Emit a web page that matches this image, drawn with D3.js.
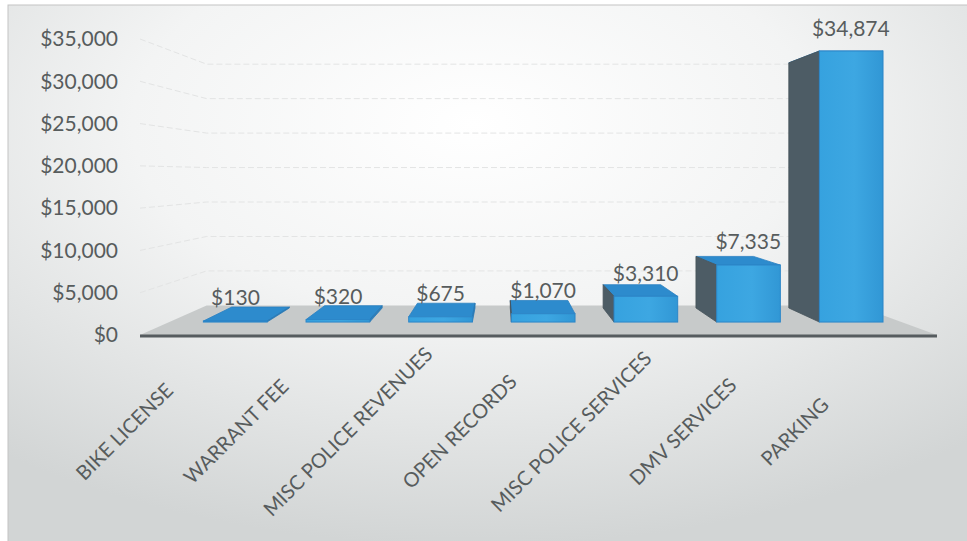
<!DOCTYPE html>
<html>
<head>
<meta charset="utf-8">
<script src="https://cdn.jsdelivr.net/npm/d3@7"></script>
<style>
  html, body { margin: 0; padding: 0; background: #ffffff; }
  svg { display: block; }
  text { font-family: Lato, "Open Sans", sans-serif; }
</style>
</head>
<body>
<svg id="chart" width="967" height="541"></svg>
<script>
// Revenue by source (3D column chart)
const categories = ["BIKE LICENSE", "WARRANT FEE", "MISC POLICE REVENUES", "OPEN RECORDS",
                    "MISC POLICE SERVICES", "DMV SERVICES", "PARKING"];
const revenue = [130, 320, 675, 1070, 3310, 7335, 34874];
const tickValues = [0, 5000, 10000, 15000, 20000, 25000, 30000, 35000];

const W = 967, H = 541;
const svg = d3.select("#chart");
const defs = svg.append("defs");

// Background panel gradient
const bg = defs.append("radialGradient").attr("id", "bgGrad")
  .attr("cx", "48%").attr("cy", "22%").attr("r", "78%");
bg.append("stop").attr("offset", "0%").attr("stop-color", "#ffffff");
bg.append("stop").attr("offset", "45%").attr("stop-color", "#f3f4f4");
bg.append("stop").attr("offset", "100%").attr("stop-color", "#d2d5d5");

svg.append("rect").attr("x", 8).attr("y", 5).attr("width", W).attr("height", H)
  .attr("fill", "url(#bgGrad)").attr("stroke", "#c4c4c4").attr("stroke-width", 1);

// Front-plane scales
const x = d3.scaleBand().domain(categories).range([156, 938])
  .paddingInner(0.38).paddingOuter(0.19);
const y = d3.scaleLinear().domain([0, 35000]).range([335, 39]);

// Perspective: points shrink toward the vanishing point with depth factor k
const VP = { x: 500, y: 175 };
const kFloorBack = 0.815, kBarFront = 0.919, kBarBack = 0.831, kLabel = 0.918;
const P = (px, py, k) => [VP.x + (px - VP.x) * k, VP.y + (py - VP.y) * k];
const poly = pts => pts.map(p => p.join(",")).join(" ");

const floorL = 140, floorR = 937;

// Wall gridlines (side wall + back wall), very faint
const grid = svg.append("g").attr("fill", "none").attr("stroke", "#e3e4e4").attr("stroke-width", 1)
  .attr("stroke-dasharray", "6,3");
tickValues.filter(v => v > 0).forEach(v => {
  const a = [floorL, y(v)], b = P(floorL, y(v), kFloorBack), c = P(floorR, y(v), kFloorBack);
  grid.append("polyline").attr("points", poly([a, b, c]));
});

// Floor
const y0 = y(0);
svg.append("polygon")
  .attr("points", poly([[floorL, y0], [floorR, y0], P(floorR, y0, kFloorBack), P(floorL, y0, kFloorBack)]))
  .attr("fill", "#c7caca");
svg.append("line").attr("x1", floorL).attr("x2", floorR).attr("y1", y0 + 1).attr("y2", y0 + 1)
  .attr("stroke", "#565c5f").attr("stroke-width", 3);

// Value axis
const axis = d3.axisLeft(y).tickValues(tickValues).tickFormat(d3.format("$,")).tickSize(0).tickPadding(22);
const gAxis = svg.append("g").attr("transform", `translate(${floorL},0)`).call(axis);
gAxis.select(".domain").remove();
gAxis.selectAll("text").attr("font-size", 21).attr("fill", "#575c5d")
  .style("font-family", "Lato, 'Open Sans', sans-serif");

// Bar face shading
const frontGrad = defs.append("linearGradient").attr("id", "frontGrad")
  .attr("x1", "0").attr("x2", "1").attr("y1", "0").attr("y2", "0");
frontGrad.append("stop").attr("offset", "0%").attr("stop-color", "#36a2df");
frontGrad.append("stop").attr("offset", "55%").attr("stop-color", "#3da7e2");
frontGrad.append("stop").attr("offset", "100%").attr("stop-color", "#3197d5");

const bars = svg.append("g");
categories.forEach((c, i) => {
  const v = revenue[i];
  const x0 = x(c), x1 = x(c) + x.bandwidth();
  const yb = y(0), yt = y(v);
  const g = bars.append("g");
  // top face
  g.append("polygon")
    .attr("points", poly([P(x0, yt, kBarFront), P(x1, yt, kBarFront), P(x1, yt, kBarBack), P(x0, yt, kBarBack)]))
    .attr("fill", "#2d8bcd").attr("stroke", "#2a80c2").attr("stroke-width", 0.8);
  // visible side face
  if (x0 > VP.x) {
    g.append("polygon")
      .attr("points", poly([P(x0, yt, kBarFront), P(x0, yt, kBarBack), P(x0, yb, kBarBack), P(x0, yb, kBarFront)]))
      .attr("fill", "#4d5c65").attr("stroke", "#46535b").attr("stroke-width", 0.8);
  } else if (x1 < VP.x) {
    g.append("polygon")
      .attr("points", poly([P(x1, yt, kBarFront), P(x1, yt, kBarBack), P(x1, yb, kBarBack), P(x1, yb, kBarFront)]))
      .attr("fill", "#2b7fbd").attr("stroke", "#2a78b4").attr("stroke-width", 0.8);
  }
  // front face
  const f0 = P(x0, yt, kBarFront), f1 = P(x1, yb, kBarFront);
  g.append("rect").attr("x", f0[0]).attr("y", f0[1])
    .attr("width", f1[0] - f0[0]).attr("height", Math.max(0, f1[1] - f0[1]))
    .attr("fill", "url(#frontGrad)").attr("stroke", "#2c86c8").attr("stroke-width", 1);
});

// Data labels
const labels = svg.append("g");
categories.forEach((c, i) => {
  const cx = x(c) + x.bandwidth() / 2;
  const p = P(cx, y(revenue[i]) - 17, kLabel);
  labels.append("text").attr("x", p[0]).attr("y", p[1])
    .attr("text-anchor", "middle").attr("font-size", 21).attr("fill", "#575c5d")
    .text(d3.format("$,")(revenue[i]));
});

// Category labels, rotated
const cats = svg.append("g");
categories.forEach(c => {
  const cx = x(c) + x.bandwidth() / 2 - 86, cy = 433;
  cats.append("text")
    .attr("transform", `translate(${cx},${cy}) rotate(-45)`)
    .attr("text-anchor", "middle").attr("dominant-baseline", "middle")
    .attr("font-size", 20).attr("fill", "#575c5d")
    .text(c);
});
</script>
</body>
</html>
